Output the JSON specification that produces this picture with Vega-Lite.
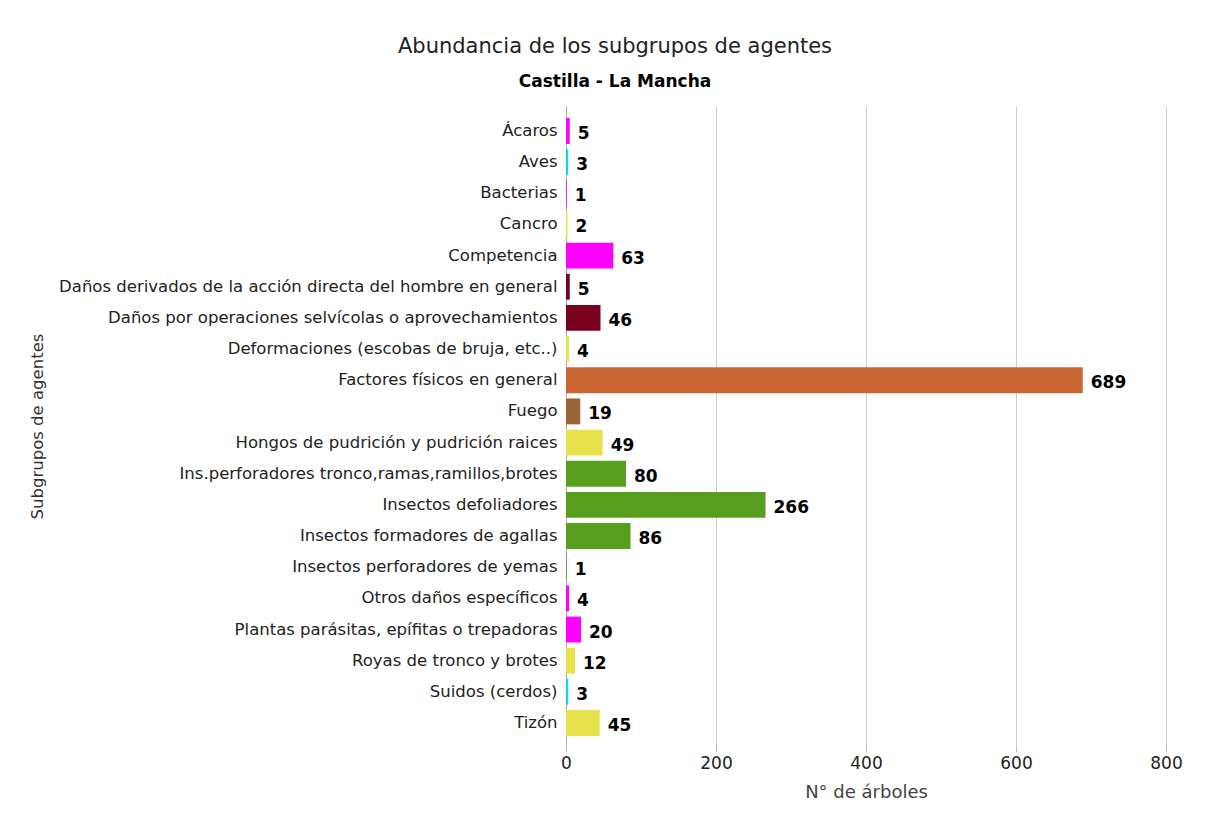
{
  "$schema": "https://vega.github.io/schema/vega-lite/v6.json",
  "width": 600,
  "height": 639,
  "autosize": {"type": "none"},
  "padding": {"left": 566, "top": 106, "right": 51, "bottom": 76},
  "background": "white",
  "view": {"stroke": null},
  "title": {
    "text": "Abundancia de los subgrupos de agentes",
    "subtitle": "Castilla - La Mancha",
    "anchor": "middle",
    "frame": "group",
    "dx": -251,
    "offset": 16,
    "font": "DejaVu Sans",
    "fontSize": 21,
    "fontWeight": "normal",
    "color": "#222222",
    "subtitleFont": "DejaVu Sans",
    "subtitleFontSize": 17,
    "subtitleFontWeight": "bold",
    "subtitleColor": "#000000",
    "subtitlePadding": 17
  },
  "data": {
    "values": [
      {"subgrupo": "Ácaros", "n": 5, "tipo": "Fauna"},
      {"subgrupo": "Aves", "n": 3, "tipo": "Vertebrados"},
      {"subgrupo": "Bacterias", "n": 1, "tipo": "Fauna"},
      {"subgrupo": "Cancro", "n": 2, "tipo": "Hongos"},
      {"subgrupo": "Competencia", "n": 63, "tipo": "Fauna"},
      {"subgrupo": "Daños derivados de la acción directa del hombre en general", "n": 5, "tipo": "Hombre"},
      {"subgrupo": "Daños por operaciones selvícolas o aprovechamientos", "n": 46, "tipo": "Hombre"},
      {"subgrupo": "Deformaciones (escobas de bruja, etc..)", "n": 4, "tipo": "Hongos"},
      {"subgrupo": "Factores físicos en general", "n": 689, "tipo": "Abióticos"},
      {"subgrupo": "Fuego", "n": 19, "tipo": "Fuego"},
      {"subgrupo": "Hongos de pudrición y pudrición raices", "n": 49, "tipo": "Hongos"},
      {"subgrupo": "Ins.perforadores tronco,ramas,ramillos,brotes", "n": 80, "tipo": "Insectos"},
      {"subgrupo": "Insectos defoliadores", "n": 266, "tipo": "Insectos"},
      {"subgrupo": "Insectos formadores de agallas", "n": 86, "tipo": "Insectos"},
      {"subgrupo": "Insectos perforadores de yemas", "n": 1, "tipo": "Insectos"},
      {"subgrupo": "Otros daños específicos", "n": 4, "tipo": "Fauna"},
      {"subgrupo": "Plantas parásitas, epífitas o trepadoras", "n": 20, "tipo": "Fauna"},
      {"subgrupo": "Royas de tronco y brotes", "n": 12, "tipo": "Hongos"},
      {"subgrupo": "Suidos (cerdos)", "n": 3, "tipo": "Vertebrados"},
      {"subgrupo": "Tizón", "n": 45, "tipo": "Hongos"}
    ]
  },
  "encoding": {
    "y": {
      "field": "subgrupo",
      "type": "nominal",
      "sort": null,
      "scale": {"paddingInner": 0.17, "paddingOuter": 0.339, "align": 0.57},
      "axis": {
        "title": "Subgrupos de agentes",
        "titleFont": "DejaVu Sans",
        "titleFontSize": 16.5,
        "titleFontWeight": "normal",
        "titleColor": "#333333",
        "titleAngle": -90,
        "titleX": -529,
        "titleY": 320,
        "titleAlign": "center",
        "titleBaseline": "middle",
        "labelFont": "DejaVu Sans",
        "labelFontSize": 16.5,
        "labelColor": "#222222",
        "labelPadding": 9,
        "labelLimit": 600,
        "ticks": false,
        "domainColor": "#aaaaaa",
        "grid": false
      }
    },
    "x": {
      "field": "n",
      "type": "quantitative",
      "scale": {"domain": [0, 800]},
      "axis": {
        "title": "N° de árboles",
        "titleFont": "DejaVu Sans",
        "titleFontSize": 18,
        "titleFontWeight": "normal",
        "titleColor": "#444444",
        "titlePadding": 12,
        "values": [0, 200, 400, 600, 800],
        "labelFont": "DejaVu Sans",
        "labelFontSize": 17,
        "labelColor": "#222222",
        "labelPadding": 3,
        "labelFlush": false,
        "domain": false,
        "ticks": true,
        "tickColor": "#bbbbbb",
        "tickSize": 7,
        "grid": true,
        "gridColor": "#cccccc"
      }
    }
  },
  "layer": [
    {
      "mark": {"type": "bar"},
      "encoding": {
        "color": {
          "field": "tipo",
          "type": "nominal",
          "scale": {
            "domain": ["Fauna", "Vertebrados", "Hongos", "Hombre", "Abióticos", "Fuego", "Insectos"],
            "range": ["#ff00ff", "#19d4f0", "#e8e34c", "#7a0020", "#cc6633", "#996633", "#589e1e"]
          },
          "legend": null
        }
      }
    },
    {
      "mark": {
        "type": "text",
        "align": "left",
        "baseline": "middle",
        "dx": 8,
        "dy": 3,
        "font": "DejaVu Sans",
        "fontSize": 17,
        "fontWeight": "bold",
        "color": "#000000"
      },
      "encoding": {
        "text": {"field": "n", "type": "quantitative"}
      }
    }
  ]
}
